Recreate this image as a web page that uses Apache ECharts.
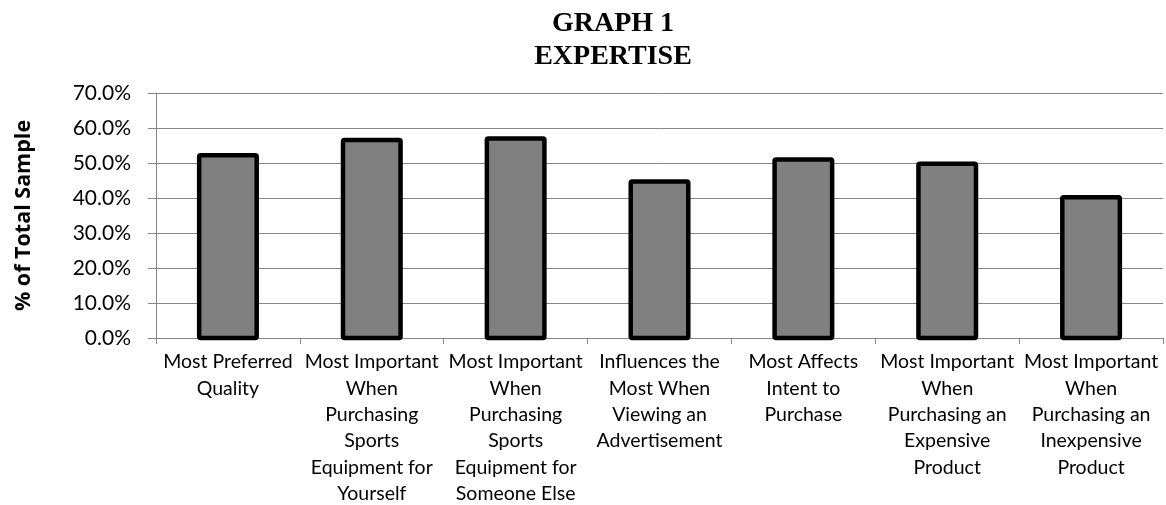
<!DOCTYPE html>
<html>
<head>
<meta charset="utf-8">
<script src="https://cdn.jsdelivr.net/npm/echarts@6/dist/echarts.min.js"></script>
<style>
html,body{margin:0;padding:0;background:#fff;}
#c{width:1166px;height:505px;}
</style>
</head>
<body>
<div id="c"></div>
<script>
const titleLines = ['GRAPH 1', 'EXPERTISE'];
const yAxisName = '% of Total Sample';
const categories = [
  'Most Preferred\nQuality',
  'Most Important\nWhen\nPurchasing\nSports\nEquipment for\nYourself',
  'Most Important\nWhen\nPurchasing\nSports\nEquipment for\nSomeone Else',
  'Influences the\nMost When\nViewing an\nAdvertisement',
  'Most Affects\nIntent to\nPurchase',
  'Most Important\nWhen\nPurchasing an\nExpensive\nProduct',
  'Most Important\nWhen\nPurchasing an\nInexpensive\nProduct'
];
const values = [52.2, 56.6, 57.0, 44.7, 51.0, 49.8, 40.2];
const yMin = 0, yMax = 70, yInterval = 10;

const chart = echarts.init(document.getElementById('c'), null, {renderer: 'canvas'});
chart.setOption({
  animation: false,
  backgroundColor: '#ffffff',
  title: {
    text: titleLines.join('\n'),
    left: 608,
    top: 2,
    textAlign: 'center',
    textStyle: {
      fontFamily: '"Liberation Serif", "Times New Roman", serif',
      fontWeight: 'bold',
      fontSize: 28,
      lineHeight: 33,
      color: '#000'
    }
  },
  grid: {left: 156, right: 3, top: 93, bottom: 167, containLabel: false, outerBoundsMode: 'none'},
  xAxis: {
    type: 'category',
    data: categories,
    axisLine: {show: true, lineStyle: {color: '#868686', width: 1}},
    axisTick: {show: true, length: 6, lineStyle: {color: '#868686'}},
    axisLabel: {
      interval: 0,
      margin: 11,
      fontFamily: 'Lato, "Open Sans", sans-serif',
      fontSize: 19.5,
      lineHeight: 26.3,
      color: '#000',
      align: 'center'
    },
    splitLine: {show: false}
  },
  yAxis: {
    type: 'value',
    min: yMin,
    max: yMax,
    interval: yInterval,
    name: yAxisName,
    nameLocation: 'middle',
    nameGap: 121,
    nameRotate: 90,
    nameTextStyle: {
      fontFamily: '"Open Sans", Lato, sans-serif',
      fontWeight: 'bold',
      fontSize: 21.5,
      color: '#000'
    },
    axisLine: {show: true, lineStyle: {color: '#868686', width: 1}},
    axisTick: {show: true, length: 8, lineStyle: {color: '#868686'}},
    axisLabel: {
      margin: 25,
      fontFamily: 'Lato, "Open Sans", sans-serif',
      fontSize: 21,
      color: '#000',
      formatter: v => v.toFixed(1) + '%'
    },
    splitLine: {show: true, lineStyle: {color: '#868686', width: 1}}
  },
  series: [{
    type: 'custom',
    data: values.map((v, i) => [i, v]),
    encode: {x: 0, y: 1},
    renderItem: function (params, api) {
      const idx = api.value(0);
      const top = api.coord([idx, api.value(1)]);
      const base = api.coord([idx, 0]);
      const bw = api.size([1, 0])[0] * 0.4;
      return {
        type: 'rect',
        shape: {x: top[0] - bw / 2, y: top[1], width: bw, height: base[1] - top[1], r: 1.5},
        style: {fill: '#808080', stroke: '#000', lineWidth: 4.5}
      };
    }
  }]
});
</script>
</body>
</html>
